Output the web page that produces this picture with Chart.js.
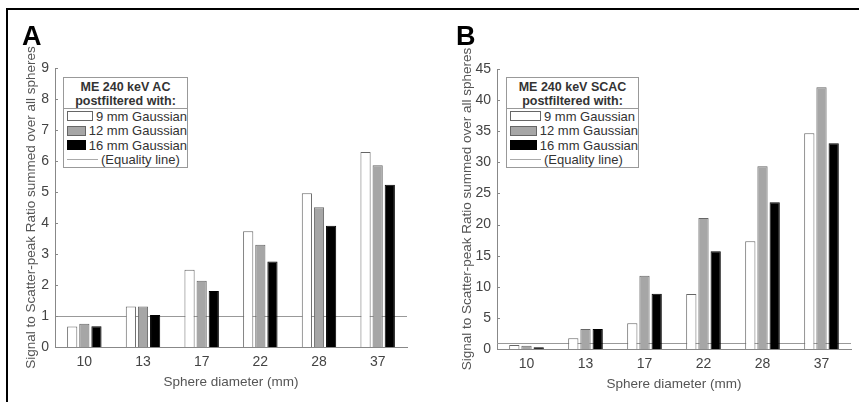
<!DOCTYPE html>
<html>
<head>
<meta charset="utf-8">
<script src="https://cdn.jsdelivr.net/npm/chart.js@4.4.0/dist/chart.umd.min.js"></script>
<style>
  body { margin: 0; background: #fff; font-family: "Liberation Sans", Arial, sans-serif; }
  #wrap { position: relative; width: 859px; height: 402px; overflow: hidden; background: #fff; }
  #frame { position: absolute; left: 6px; top: 8px; width: 900px; height: 500px; border-top: 2px solid #000; border-left: 2px solid #000; }
  canvas { position: absolute; top: 0; }
  .panel { position: absolute; top: 21px; font: bold 27px "Liberation Sans", Arial, sans-serif; color: #000; }
  .legend { position: absolute; top: 77px; height: 91px; background: #fff; border: 1px solid #999; box-sizing: border-box; color: #333; }
  .legend .head { height: 31px; border-bottom: 1px solid #999; text-align: center; font: bold 12.5px "Liberation Sans", Arial, sans-serif; line-height: 13.5px; padding-top: 3px; box-sizing: border-box; }
  .legend .row { height: 14.5px; display: flex; align-items: center; font-size: 13px; padding-left: 3px; white-space: nowrap; }
  .legend .sw { width: 31px; height: 10px; border: 1px solid #666; margin-right: 3px; box-sizing: border-box; }
  .legend .ln { width: 31px; height: 1px; background: #aaa; margin-right: 3px; }
</style>
</head>
<body>
<div id="wrap">
  <canvas id="chartA" width="430" height="402" style="left:0px"></canvas>
  <canvas id="chartB" width="429" height="402" style="left:430px"></canvas>
  <div id="frame"></div>
  <div class="panel" style="left:22px">A</div>
  <div class="panel" style="left:456px">B</div>
  <div class="legend" id="legA" style="left:63px;width:125px"></div>
  <div class="legend" id="legB" style="left:506px;width:133px"></div>
</div>
<script>
  // sphere diameters (mm)
  const diameters = ['10', '13', '17', '22', '28', '37'];
  const seriesLabels = ['9 mm Gaussian', '12 mm Gaussian', '16 mm Gaussian'];
  const equalityValue = 1;

  // ME 240 keV AC
  const acG9  = [0.66, 1.31, 2.49, 3.73, 4.96, 6.29];
  const acG12 = [0.75, 1.31, 2.14, 3.30, 4.51, 5.86];
  const acG16 = [0.67, 1.03, 1.81, 2.76, 3.91, 5.23];

  // ME 240 keV SCAC
  const scacG9  = [0.64, 1.71, 4.12, 8.82, 17.33, 34.68];
  const scacG12 = [0.53, 3.21, 11.76, 21.07, 29.37, 42.07];
  const scacG16 = [0.27, 3.21, 8.88, 15.72, 23.58, 33.07];

  const fills = ['#ffffff', '#a6a6a6', '#000000'];
  const borders = ['#666666', '#666666', '#000000'];

  const equalityLine = {
    id: 'equalityLine',
    beforeDatasetsDraw(chart) {
      const { ctx, chartArea, scales } = chart;
      const y = Math.round(scales.y.getPixelForValue(equalityValue)) + 0.5;
      ctx.save();
      ctx.strokeStyle = '#999';
      ctx.lineWidth = 1;
      ctx.beginPath();
      ctx.moveTo(chartArea.left, y);
      ctx.lineTo(chartArea.right, y);
      ctx.stroke();
      // inward y ticks
      ctx.strokeStyle = '#888';
      scales.y.ticks.forEach(t => {
        const ty = Math.round(scales.y.getPixelForValue(t.value)) + 0.5;
        ctx.beginPath();
        ctx.moveTo(chartArea.left, ty);
        ctx.lineTo(chartArea.left + 3, ty);
        ctx.stroke();
      });
      ctx.restore();
    }
  };

  function makeChart(id, series, yMax, yStep, pad, yWidth) {
    return new Chart(document.getElementById(id).getContext('2d'), {
      type: 'bar',
      data: {
        labels: diameters,
        datasets: series.map((d, i) => ({
          label: seriesLabels[i],
          data: d,
          backgroundColor: fills[i],
          borderColor: borders[i],
          borderWidth: 1,
          categoryPercentage: 0.62,
          barPercentage: 0.84
        }))
      },
      options: {
        responsive: false,
        animation: false,
        devicePixelRatio: 1,
        layout: { padding: pad },
        plugins: { legend: { display: false }, tooltip: { enabled: false } },
        scales: {
          x: {
            grid: { display: false, drawTicks: false },
            border: { color: '#888' },
            ticks: { color: '#444', font: { family: 'Liberation Sans', size: 14 }, padding: 7 },
            title: { display: true, text: 'Sphere diameter (mm)', color: '#555',
                     font: { family: 'Liberation Sans', size: 13.5 }, padding: { top: 2, bottom: 4 } },
            afterFit(s) { s.height = 47; }
          },
          y: {
            min: 0,
            max: yMax,
            grid: { display: false, drawTicks: false },
            border: { color: '#888' },
            ticks: { stepSize: yStep, color: '#444', font: { family: 'Liberation Sans', size: 14 }, padding: 6 },
            title: { display: true, text: 'Signal to Scatter-peak Ratio summed over all spheres', color: '#555',
                     font: { family: 'Liberation Sans', size: 13.5 }, padding: { top: 4, bottom: 4 } },
            afterFit(s) { s.width = yWidth; }
          }
        }
      },
      plugins: [equalityLine]
    });
  }

  makeChart('chartA', [acG9, acG12, acG16], 9, 1, { left: 19, right: 23, top: 68, bottom: 8 }, 36);
  makeChart('chartB', [scacG9, scacG12, scacG16], 45, 5, { left: 25, right: 8, top: 69, bottom: 6 }, 42);

  function buildLegend(id, title) {
    const el = document.getElementById(id);
    let html = '<div class="head">' + title + '<br>postfiltered with:</div>';
    seriesLabels.forEach((lab, i) => {
      html += '<div class="row"><span class="sw" style="background:' + fills[i] + ';border-color:' + borders[i] + '"></span>' + lab + '</div>';
    });
    html += '<div class="row"><span class="ln"></span>(Equality line)</div>';
    el.innerHTML = html;
  }
  buildLegend('legA', 'ME 240 keV AC');
  buildLegend('legB', 'ME 240 keV SCAC');
</script>
</body>
</html>
